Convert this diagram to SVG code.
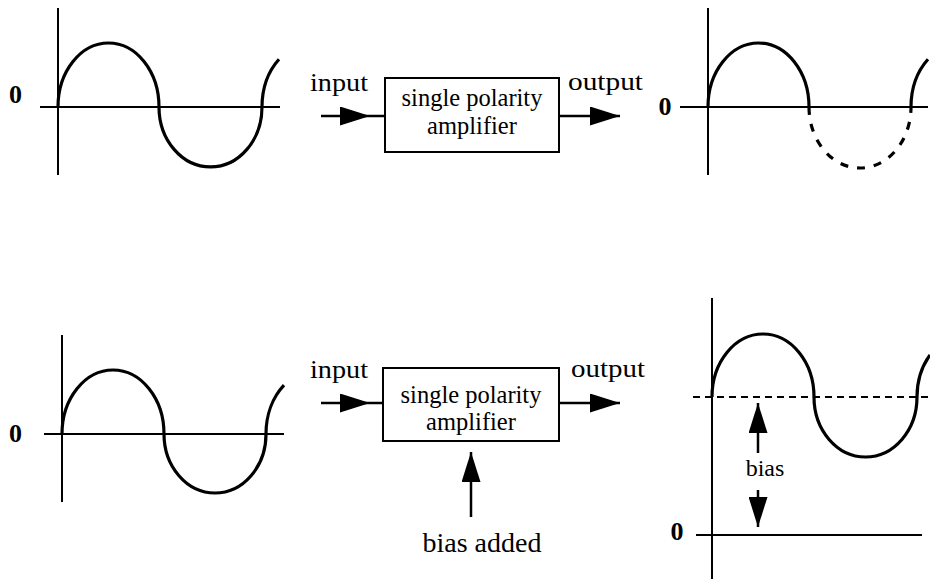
<svg xmlns="http://www.w3.org/2000/svg" width="930" height="579" viewBox="0 0 930 579" font-family="'Liberation Serif', 'Times New Roman', serif">
  <defs>
    <marker id="ah" viewBox="0 0 30 19" refX="30" refY="9.5" markerWidth="30" markerHeight="19" markerUnits="userSpaceOnUse" orient="auto">
      <path d="M0,0 L30,9.5 L0,19 z" fill="#000"/>
    </marker>
  </defs>
  <style>
    .axis { stroke: #000; stroke-width: 2; fill: none; }
    .wave { stroke: #000; stroke-width: 3.2; fill: none; }
    .dash { stroke: #000; stroke-width: 3.2; fill: none; stroke-dasharray: 8 9; }
    .ref { stroke: #000; stroke-width: 2; fill: none; stroke-dasharray: 7 5; }
    .box { stroke: #000; stroke-width: 2; fill: #fff; }
    .conn { stroke: #000; stroke-width: 2.5; fill: none; }
    .t { font-family: "Liberation Serif", "Times New Roman", serif; fill: #000; }
    .zero { font-size: 26px; font-weight: bold; text-anchor: middle; }
    .lbl { font-size: 26px; }
    .boxt { font-size: 24.5px; text-anchor: middle; }
  </style>

  <g id="graph-input-top">
    <line class="axis" x1="58" y1="8" x2="58" y2="175"/>
    <line class="axis" x1="40" y1="107" x2="280" y2="107"/>
    <path class="wave" d="M58 107 A 50.5 64 0 0 1 159 107 A 51.5 60 0 0 0 262 107 A 51 64 0 0 1 279 59.3"/>
    <text class="t zero" font-family="Liberation Serif, serif" x="15.5" y="103">0</text>
  </g>

  <g id="amp-top">
    <rect class="box" x="385" y="78" width="174" height="74"/>
    <text class="t boxt" font-family="Liberation Serif, serif" x="472" y="106">single polarity</text>
    <text class="t boxt" font-family="Liberation Serif, serif" x="472" y="134">amplifier</text>
  </g>

  <g id="graph-output-top">
    <line class="axis" x1="708" y1="8" x2="708" y2="175"/>
    <line class="axis" x1="680" y1="107" x2="928" y2="107"/>
    <path class="wave" d="M708 107 A 50.5 64 0 0 1 809 107"/>
    <path class="dash" d="M809 107 A 51 61 0 0 0 911 107"/>
    <path class="wave" d="M911 107 A 51 64 0 0 1 928 59.3"/>
    <text class="t zero" font-family="Liberation Serif, serif" x="665" y="115">0</text>
  </g>

  <g id="graph-input-bottom">
    <line class="axis" x1="62" y1="335" x2="62" y2="502"/>
    <line class="axis" x1="44" y1="434" x2="284" y2="434"/>
    <path class="wave" d="M62 434 A 51 64 0 0 1 164 434 A 51 59 0 0 0 266 434 A 51 64 0 0 1 284 385.2"/>
    <text class="t zero" font-family="Liberation Serif, serif" x="15.5" y="442">0</text>
  </g>

  <g id="amp-bottom">
    <rect class="box" x="383" y="368" width="176" height="73"/>
    <text class="t boxt" font-family="Liberation Serif, serif" x="471" y="403">single polarity</text>
    <text class="t boxt" font-family="Liberation Serif, serif" x="471" y="430">amplifier</text>
  </g>

  <g id="graph-output-bottom">
    <line class="axis" x1="712" y1="298" x2="712" y2="579"/>
    <line class="axis" x1="696" y1="535" x2="922" y2="535"/>
    <line class="ref" x1="693" y1="397" x2="930" y2="397"/>
    <path class="wave" d="M712 397 A 51 63 0 0 1 814 397 A 51.5 60 0 0 0 917 397 A 51 63 0 0 1 930 355"/>
    <text class="t zero" font-family="Liberation Serif, serif" x="677" y="540">0</text>
  </g>

  <g id="connectors">
    <path class="conn" d="M321 116 L370 116 L385 116" marker-mid="url(#ah)"/>
    <text class="t lbl" font-family="Liberation Serif, serif" x="310" y="91" textLength="58" lengthAdjust="spacingAndGlyphs">input</text>
    <line class="conn" x1="559" y1="116" x2="620" y2="116" marker-end="url(#ah)"/>
    <text class="t lbl" font-family="Liberation Serif, serif" x="568" y="90" textLength="75" lengthAdjust="spacingAndGlyphs">output</text>

    <path class="conn" d="M321 403 L370 403 L383 403" marker-mid="url(#ah)"/>
    <text class="t lbl" font-family="Liberation Serif, serif" x="310" y="378" textLength="58" lengthAdjust="spacingAndGlyphs">input</text>
    <line class="conn" x1="559" y1="403" x2="620" y2="403" marker-end="url(#ah)"/>
    <text class="t lbl" font-family="Liberation Serif, serif" x="571" y="377" textLength="74" lengthAdjust="spacingAndGlyphs">output</text>

    <line class="conn" x1="471" y1="517" x2="471" y2="452" marker-end="url(#ah)"/>
    <text class="t" font-family="Liberation Serif, serif" x="482" y="552" font-size="28" text-anchor="middle">bias added</text>

    <line class="conn" x1="758" y1="453" x2="758" y2="403" marker-end="url(#ah)"/>
    <line class="conn" x1="758" y1="490" x2="758" y2="527" marker-end="url(#ah)"/>
    <text class="t" font-family="Liberation Serif, serif" x="765" y="476" font-size="24" text-anchor="middle">bias</text>
  </g>
</svg>
